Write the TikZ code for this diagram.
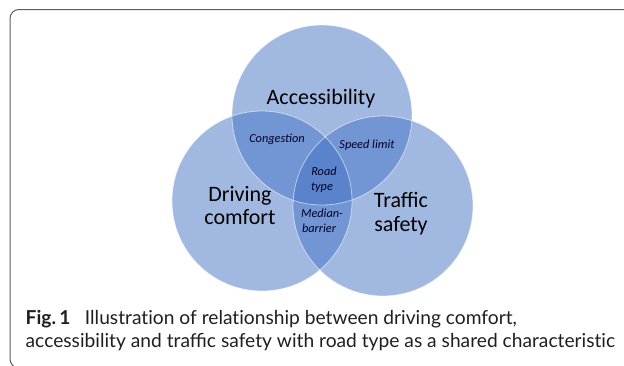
\documentclass[tikz,border=0pt]{standalone}
\usepackage{fontspec}
\setmainfont{Carlito}
\newfontfamily\captionfont{Lato}
\definecolor{vennblue}{HTML}{4472C4}
\definecolor{framegray}{HTML}{5C5C5C}
\begin{document}
\begin{tikzpicture}[x=1pt,y=-1pt,
  venn/.style={circle,minimum size=180pt,inner sep=0pt,fill=vennblue,fill opacity=0.5},
  vennedge/.style={circle,minimum size=180pt,inner sep=0pt,draw=white,draw opacity=0.55,line width=0.8pt},
  bigtext/.style={font=\fontsize{22}{23.5}\selectfont,text=black,align=center,inner sep=0pt},
  smalltext/.style={font=\fontsize{12.3}{15.5}\selectfont\itshape,text=black!85!blue,align=center,inner sep=0pt},
  captext/.style={font=\captionfont\fontsize{19.2}{23.5}\selectfont,text=black!88,anchor=base west,inner sep=0pt}]
\useasboundingbox (0,0) rectangle (624,365);
\clip (0,0) rectangle (624,365);
% panel frame, open to the right and bottom
\draw[framegray,line width=1pt,rounded corners=9pt] (10,9.5) rectangle (660,368);
% three overlapping sets
\node[venn] (acc) at (322,115) {};
\node[venn] (drv) at (262,201) {};
\node[venn] (saf) at (383,206) {};
\node[vennedge] at (acc) {};
\node[vennedge] at (drv) {};
\node[vennedge] at (saf) {};
% set names
\node[bigtext,anchor=base] (accl) at (321,104) {Accessibility};
\node[bigtext,anchor=base] (drvl1) at (240,201) {Driving};
\node[bigtext,anchor=base] (drvl2) at (240,224.5) {comfort};
\node[bigtext,anchor=base] (safl1) at (401,207) {Traffic};
\node[bigtext,anchor=base] (safl2) at (401,231) {safety};
% shared characteristics
\node[smalltext,anchor=base] (cong) at (277,142) {Congestion};
\node[smalltext,anchor=base] (speed) at (367,148) {Speed limit};
\node[smalltext,anchor=base] (road1) at (324,175) {Road};
\node[smalltext,anchor=base] (road2) at (322,190.5) {type};
\node[smalltext,anchor=base] (med1) at (322,217) {Median-};
\node[smalltext,anchor=base] (med2) at (319,232.5) {barrier};
% caption (kerns keep t and i as separate glyphs)
\node[captext] (cap1) at (25.5,324) {\textbf{Fig.\,1}\hspace{0.5em} Illustrat\kern0pt ion of relat\kern0pt ionship between driving comfort,};
\node[captext] (cap2) at (25.5,347) {accessibility and traffic safety with road type as a shared characterist\kern0pt ic};
\end{tikzpicture}
\end{document}
